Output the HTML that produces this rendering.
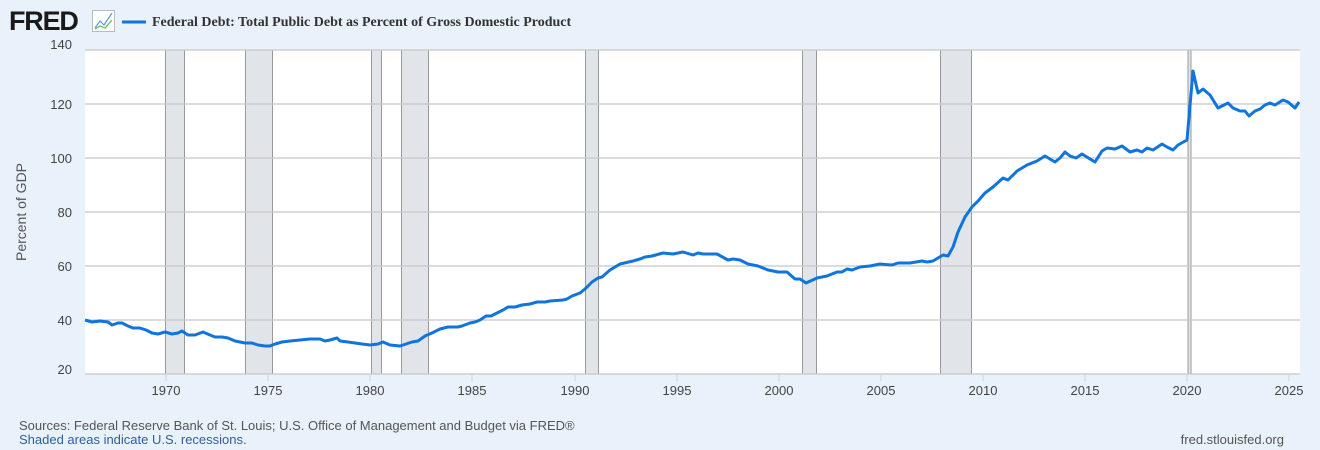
<!DOCTYPE html>
<html><head><meta charset="utf-8"><style>
body{margin:0;width:1320px;height:450px;background:#e9f1fa;overflow:hidden;font-family:"Liberation Sans",sans-serif;}
</style></head><body>
<svg width="1320" height="450" xmlns="http://www.w3.org/2000/svg" style="position:absolute;left:0;top:0">
<text x="9" y="30" font-family="Liberation Sans" font-weight="bold" font-size="27" fill="#1a1a1a" letter-spacing="-1.2">FRED</text>
<rect x="92.5" y="10.5" width="22" height="21" fill="#fff" stroke="#bbb"/>
<polyline points="95,28 100,21 104,25 112,13" fill="none" stroke="#5b9bd5" stroke-width="1.2"/>
<polyline points="95,29 100,26 105,28 112,20" fill="none" stroke="#5cb85c" stroke-width="1.2"/>
<line x1="122" y1="22" x2="146" y2="22" stroke="#0f74de" stroke-width="3"/>
<text x="152" y="26" font-family="Liberation Serif" font-weight="bold" font-size="14" fill="#333">Federal Debt: Total Public Debt as Percent of Gross Domestic Product</text>
<rect x="85" y="50" width="1215" height="324" fill="#fff"/>
<g fill="#e1e5ea" stroke="#999" stroke-width="1">
<rect x="165.5" y="50" width="19" height="324"/>
<rect x="245.5" y="50" width="27" height="324"/>
<rect x="371.5" y="50" width="10" height="324"/>
<rect x="401.5" y="50" width="27" height="324"/>
<rect x="585.5" y="50" width="13" height="324"/>
<rect x="802.5" y="50" width="14" height="324"/>
<rect x="940.5" y="50" width="31" height="324"/>
<rect x="1188" y="50" width="3" height="324"/>
</g>
<g stroke="#c8c8c8" stroke-width="1.3">
<line x1="85" x2="1300" y1="50" y2="50"/><line x1="85" x2="1300" y1="104" y2="104"/>
<line x1="85" x2="1300" y1="158" y2="158"/><line x1="85" x2="1300" y1="212" y2="212"/>
<line x1="85" x2="1300" y1="266" y2="266"/><line x1="85" x2="1300" y1="320" y2="320"/>
<line x1="85" x2="1300" y1="374" y2="374"/>
</g>
<g stroke="#c8d4e0"><line x1="166" x2="166" y1="375" y2="381"/><line x1="268" x2="268" y1="375" y2="381"/><line x1="370" x2="370" y1="375" y2="381"/><line x1="472" x2="472" y1="375" y2="381"/><line x1="575" x2="575" y1="375" y2="381"/><line x1="677" x2="677" y1="375" y2="381"/><line x1="779" x2="779" y1="375" y2="381"/><line x1="881" x2="881" y1="375" y2="381"/><line x1="983" x2="983" y1="375" y2="381"/><line x1="1085" x2="1085" y1="375" y2="381"/><line x1="1187" x2="1187" y1="375" y2="381"/><line x1="1289" x2="1289" y1="375" y2="381"/></g>
<g font-size="13" fill="#444" text-anchor="end">
<text x="72" y="49">140</text><text x="72" y="109">120</text><text x="72" y="163">100</text><text x="72" y="217">80</text><text x="72" y="271">60</text><text x="72" y="325">40</text><text x="72" y="374">20</text>
</g>
<g font-size="13" fill="#444" text-anchor="middle">
<text x="166" y="395">1970</text><text x="268" y="395">1975</text><text x="370" y="395">1980</text><text x="472" y="395">1985</text><text x="575" y="395">1990</text><text x="677" y="395">1995</text><text x="779" y="395">2000</text><text x="881" y="395">2005</text><text x="983" y="395">2010</text><text x="1085" y="395">2015</text><text x="1187" y="395">2020</text><text x="1289" y="395">2025</text>
</g>
<text transform="translate(26,212) rotate(-90)" font-size="14" fill="#555" text-anchor="middle">Percent of GDP</text>
<polyline fill="none" stroke="#0f74de" stroke-width="3" stroke-linejoin="round" points="85,320 92,322 100,321 108,322 112,325 118,323 122,323 128,326 133,328 140,328 146,330 152,333 158,334 165,332 172,334 178,333 182,331 188,335 195,335 203,332 210,335 215,337 222,337 228,338 235,341 245,343 252,343 258,345 265,346 270,346 275,344 282,342 290,341 300,340 310,339 320,339 325,341 330,340 337,338 340,341 348,342 355,343 362,344 370,345 378,344 383,342 390,345 400,346 412,342 418,341 425,336 432,333 440,329 448,327 458,327 462,326 470,323 475,322 480,320 486,316 491,316 497,313 503,310 508,307 515,307 522,305 530,304 537,302 545,302 550,301 563,300 567,299 572,296 580,293 585,289 592,282 598,278 602,277 610,270 620,264 633,261 640,259 645,257 652,256 663,253 673,254 683,252 693,255 698,253 703,254 717,254 728,260 733,259 740,260 748,264 758,266 768,270 778,272 787,272 795,279 800,279 806,283 817,278 827,276 837,272 842,272 847,269 852,270 860,267 870,266 880,264 892,265 898,263 910,263 922,261 927,262 933,261 943,255 948,256 953,247 958,232 965,217 972,207 978,201 985,193 993,187 1003,178 1008,180 1017,171 1027,165 1037,161 1045,156 1055,162 1060,158 1065,152 1070,156 1076,158 1082,154 1095,162 1102,151 1107,148 1115,149 1122,146 1130,152 1137,150 1142,152 1147,148 1153,150 1162,144 1167,147 1173,150 1178,145 1187,140 1193,71 1198,93 1203,89 1210,95 1218,108 1228,103 1233,108 1240,111 1245,111 1249,116 1255,111 1260,109 1265,105 1270,103 1275,105 1283,100 1288,102 1295,108 1299,102"/>
<text x="19" y="430" font-size="13" fill="#555">Sources: Federal Reserve Bank of St. Louis; U.S. Office of Management and Budget via FRED®</text>
<text x="19" y="444" font-size="13" fill="#2d5f9e">Shaded areas indicate U.S. recessions.</text>
<text x="1284" y="444" font-size="13" fill="#555" text-anchor="end">fred.stlouisfed.org</text>
</svg>
</body></html>
